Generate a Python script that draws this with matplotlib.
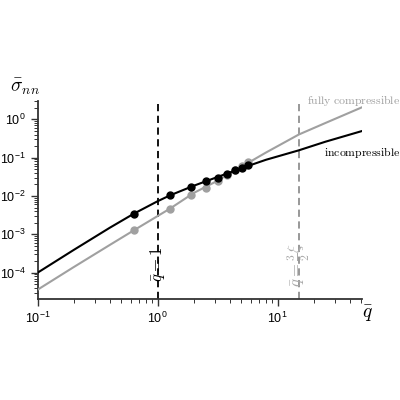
import matplotlib
matplotlib.use('Agg')
import matplotlib.pyplot as plt

plt.rcParams['mathtext.fontset'] = 'custom'
plt.rcParams['mathtext.rm'] = 'Liberation Sans'
plt.rcParams['mathtext.it'] = 'Liberation Sans:italic'
plt.rcParams['mathtext.bf'] = 'Liberation Sans:bold'
plt.rcParams['font.family'] = ['Liberation Sans', 'DejaVu Sans']

# line samples
q_line = [0.1, 0.2, 0.4, 0.633, 1.0, 1.27, 2.0, 3.0, 5.0, 8.0, 15.0, 25.0, 50.0]
incomp_line = [1.0e-4, 3.92e-4, 1.49e-3, 3.45e-3, 7.3e-3, 1.04e-2, 1.85e-2, 2.95e-2,
               5.3e-2, 8.8e-2, 0.155, 0.26, 0.49]
comp_line = [3.6e-5, 1.4e-4, 5.3e-4, 1.27e-3, 3.0e-3, 4.7e-3, 1.2e-2, 2.3e-2,
             5.8e-2, 0.136, 0.40, 0.80, 2.03]

# simulation points
q_pts = [0.633, 1.27, 1.9, 2.53, 3.16, 3.8, 4.43, 5.06, 5.7]
incomp_pts = [3.43e-3, 1.04e-2, 1.72e-2, 2.4e-2, 3.0e-2, 3.8e-2, 4.7e-2, 5.5e-2, 6.3e-2]
comp_pts = [1.27e-3, 4.7e-3, 1.08e-2, 1.65e-2, 2.5e-2, 3.5e-2, 4.7e-2, 6.0e-2, 7.5e-2]

q_one = 1.0
q_xi = 15.0

gray = '#a0a0a0'

fig = plt.figure(figsize=(4, 4), dpi=100)
ax = fig.add_axes([0.094, 0.2525, 0.81, 0.495])

ax.plot(q_line, comp_line, color=gray, lw=1.5, zorder=3)
ax.plot(q_pts, comp_pts, 'o', color=gray, ms=5, zorder=3)
ax.plot(q_line, incomp_line, color='black', lw=1.5, zorder=4)
ax.plot(q_pts, incomp_pts, 'o', color='black', ms=5, zorder=4)

ax.axvline(q_one, color='black', ls=(0, (4, 2.5)), lw=1.3, zorder=2)
ax.axvline(q_xi, color='#909090', ls=(0, (4, 2.5)), lw=1.3, zorder=2)

ax.set_xscale('log')
ax.set_yscale('log')
ax.set_xlim(0.1, 50.1)
ax.set_ylim(2.06e-5, 3.0)

for s in ['top', 'right']:
    ax.spines[s].set_visible(False)
for s in ['left', 'bottom']:
    ax.spines[s].set_linewidth(1.3)
    ax.spines[s].set_color('#333333')
ax.tick_params(which='both', direction='out', color='#333333', labelsize=9)
ax.tick_params(which='major', length=5, width=1.0)
ax.tick_params(which='minor', length=3, width=0.7)
ax.set_yticks([1e-4, 1e-3, 1e-2, 1e-1, 1e0])
ax.set_xticks([0.1, 1, 10])

ax.text(q_one, 5.7e-5, r'$\bar{q}=1$', rotation=90, ha='center', va='bottom',
        fontsize=12, math_fontfamily='cm', zorder=3)
ax.text(q_xi, 4.2e-5, r'$\bar{q}=\frac{3}{2}\xi$', rotation=90, ha='center', va='bottom',
        fontsize=12, color='#aaaaaa', math_fontfamily='cm', zorder=3)

fig.text(0.767, 0.75, r'$\mathrm{fully\ compressible}$', color=gray, fontsize=8.5,
         math_fontfamily='cm', va='center')
fig.text(0.81, 0.618, r'$\mathrm{incompressible}$', color='black', fontsize=8.5,
         math_fontfamily='cm', va='center')

fig.text(0.025, 0.782, r'$\bar{\sigma}_{nn}$', fontsize=14, math_fontfamily='cm', va='center')
fig.text(0.905, 0.215, r'$\bar{q}$', fontsize=14, math_fontfamily='cm', va='center')

fig.savefig('out.png', dpi=100)
